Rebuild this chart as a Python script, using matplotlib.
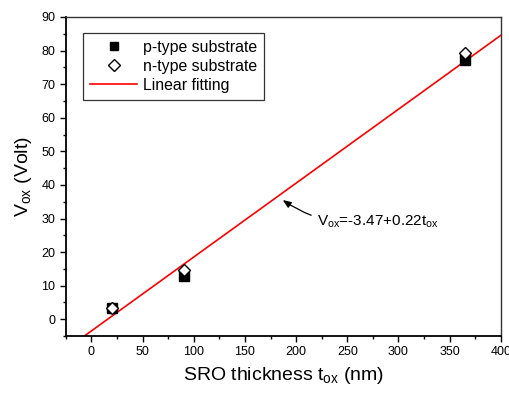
import numpy as np
import matplotlib
matplotlib.use('Agg')
import matplotlib.pyplot as plt
from matplotlib.ticker import MultipleLocator
from matplotlib.lines import Line2D

plt.rcParams['font.family'] = ['Liberation Sans', 'DejaVu Sans']
plt.rcParams['mathtext.fontset'] = 'custom'
plt.rcParams['mathtext.rm'] = 'Liberation Sans'
plt.rcParams['mathtext.it'] = 'Liberation Sans'

# Data
thickness = [20, 90, 365]
v_p_type = [3.5, 13.0, 77.2]
v_n_type = [3.5, 14.7, 79.3]
fit_intercept = -3.47
fit_slope = 0.22

fig = plt.figure(figsize=(5.1, 3.94), dpi=100)
ax = fig.add_axes([0.129, 0.147, 0.853, 0.81])

# Linear fit across full x range
t_fit = np.array([-25, 400])
ax.plot(t_fit, fit_intercept + fit_slope * t_fit, color='red', linewidth=1.2, zorder=2)

ax.plot(thickness, v_p_type, 's', color='black', markersize=6.8,
        linestyle='none', zorder=3)
ax.plot(thickness, v_n_type, 'D', markerfacecolor='white', markeredgecolor='black',
        markersize=6.0, markeredgewidth=1.0, linestyle='none', zorder=4)

ax.set_xlim(-25, 400)
ax.set_ylim(-5, 90)
ax.xaxis.set_major_locator(MultipleLocator(50))
ax.xaxis.set_minor_locator(MultipleLocator(25))
ax.yaxis.set_major_locator(MultipleLocator(10))
ax.yaxis.set_minor_locator(MultipleLocator(5))
ax.tick_params(which='major', direction='out', length=4, width=1, labelsize=9,
               top=False, right=False)
ax.tick_params(which='minor', direction='out', length=2.5, width=1,
               top=False, right=False)
for s in ['left', 'bottom']:
    ax.spines[s].set_linewidth(1.3)
for s in ['top', 'right']:
    ax.spines[s].set_linewidth(1.0)
    ax.spines[s].set_color('#333333')

ax.set_xlabel(r'SRO thickness t$_{\mathrm{ox}}$ (nm)', fontsize=14, labelpad=5)
ax.set_ylabel(r'V$_{\mathrm{ox}}$ (Volt)', fontsize=14, labelpad=5)

ax.annotate(r'V$_{\mathrm{ox}}$=-3.47+0.22t$_{\mathrm{ox}}$',
            xy=(187, 35.5), xytext=(220, 29), fontsize=11,
            va='center', ha='left',
            arrowprops=dict(arrowstyle='-|>,head_length=0.45,head_width=0.18',
                            color='black', lw=0.9,
                            connectionstyle='arc3,rad=-0.2',
                            shrinkA=2, shrinkB=0))

# legend proxies (legend markers are a bit smaller than the data markers)
handles = [
    Line2D([], [], marker='s', color='black', markersize=5.3, linestyle='none'),
    Line2D([], [], marker='D', markerfacecolor='white', markeredgecolor='black',
           markersize=6.0, markeredgewidth=1.0, linestyle='none'),
    Line2D([], [], color='red', linewidth=1.2),
]
labels = ['p-type substrate', 'n-type substrate', 'Linear fitting']
leg = ax.legend(handles, labels,
                loc='upper left', bbox_to_anchor=(0.039, 0.950), fontsize=11.4,
                frameon=True, fancybox=False, edgecolor='black',
                handlelength=3.0, handletextpad=0.35, borderpad=0.45,
                labelspacing=0.24, borderaxespad=0)
leg.get_frame().set_linewidth(0.9)

fig.savefig('out.png', dpi=100)
